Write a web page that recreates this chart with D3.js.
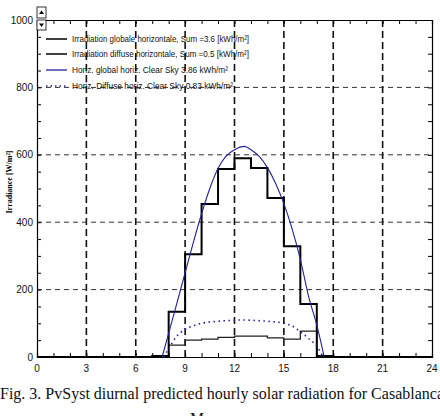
<!DOCTYPE html>
<html>
<head>
<meta charset="utf-8">
<script src="https://cdn.jsdelivr.net/npm/d3@7"></script>
<style>
  body { margin: 0; background: #fff; }
  svg { display: block; }
  .tick-lbl { font-family: "Liberation Sans Narrow", "Liberation Sans", Arial, sans-serif; font-size: 10px; fill: #111; }
  .leg { font-family: "Liberation Sans Narrow", "Liberation Sans", Arial, sans-serif; font-size: 9px; fill: #111; }
  .cap { font-family: "Liberation Serif", "Times New Roman", serif; font-size: 15.8px; fill: #111; }
</style>
</head>
<body>
<svg id="chart" width="440" height="416"></svg>
<script>
// ---- data ----
const hourStarts = [0, 1, 2, 3, 4, 5, 6, 7, 8, 9, 10, 11, 12, 13, 14, 15, 16, 17, 18, 19, 20, 21, 22, 23];
const globalHourly = [0, 0, 0, 0, 0, 0, 0, 3, 134, 305, 454, 558, 590, 561, 472, 329, 157, 3, 0, 0, 0, 0, 0, 0];
const diffuseHourly = [0, 0, 0, 0, 0, 0, 0, 3, 35, 50, 53, 58, 62, 62, 57, 53, 77, 3, 0, 0, 0, 0, 0, 0];

const clearHours = [7.6, 8, 8.5, 9, 9.5, 10, 10.5, 11, 11.5, 12, 12.6, 13, 13.5, 14, 14.5, 15, 15.5, 16, 16.5, 17, 17.45];
const clearGlobal = [0, 70, 160, 250, 340, 425, 500, 560, 597, 615, 625, 615, 595, 562, 515, 455, 380, 290, 180, 95, 0];

const clearDiffHours = [7.7, 8, 8.5, 9, 9.5, 10, 11, 12, 12.5, 13, 14, 15, 15.5, 16, 16.5, 17, 17.4];
const clearDiffuse = [0, 25, 62, 82, 93, 100, 106, 109, 110, 109, 106, 100, 92, 75, 55, 32, 0];

const xTicks = [0, 3, 6, 9, 12, 15, 18, 21, 24];
const yTicks = [0, 200, 400, 600, 800, 1000];

const legendItems = [
  "Irradiation globale horizontale,  Sum =3.6 [kWh/m\u00b2]",
  "Irradiation diffuse horizontale,  Sum =0.5 [kWh/m\u00b2]",
  "Horiz. global horiz.  Clear Sky  3.86 kWh/m\u00b2",
  "Horiz. Diffuse horiz.  Clear Sky  0.83 kWh/m\u00b2"
];

// ---- layout ----
const svg = d3.select("#chart");
svg.append("rect").attr("width", 440).attr("height", 416).attr("fill", "#fff");

const x = d3.scaleLinear().domain([0, 24]).range([37, 432]);
const y = d3.scaleLinear().domain([0, 1000]).range([357, 20]);
const blue = "#22229a";

// grid
svg.append("g").selectAll("line")
  .data(xTicks.slice(1, -1))
  .join("line")
  .attr("x1", d => x(d)).attr("x2", d => x(d))
  .attr("y1", y(1000)).attr("y2", y(0))
  .attr("stroke", "#111").attr("stroke-width", 1.6)
  .attr("stroke-dasharray", "7,4");

svg.append("g").selectAll("line")
  .data(yTicks.slice(1, -1))
  .join("line")
  .attr("x1", x(0)).attr("x2", x(24))
  .attr("y1", d => y(d)).attr("y2", d => y(d))
  .attr("stroke", "#333").attr("stroke-width", 1)
  .attr("stroke-dasharray", "5,4");

// axes (ticks inside on all four sides)
const axB = d3.axisBottom(x).tickValues(d3.range(0, 25, 1)).tickSize(-4).tickFormat("");
const axT = d3.axisTop(x).tickValues(d3.range(0, 25, 1)).tickSize(-4).tickFormat("");
const axL = d3.axisLeft(y).tickValues(d3.range(0, 1001, 50)).tickSize(-4).tickFormat("");
const axR = d3.axisRight(y).tickValues(d3.range(0, 1001, 50)).tickSize(-4).tickFormat("");

[[axB, `translate(0,${y(0)})`], [axT, `translate(0,${y(1000)})`],
 [axL, `translate(${x(0)},0)`], [axR, `translate(${x(24)},0)`]].forEach(([ax, tr]) => {
  const g = svg.append("g").attr("transform", tr).call(ax);
  g.select(".domain").attr("stroke", "#000").attr("stroke-width", 1.2);
  g.selectAll(".tick line").attr("stroke", "#000");
});

// tick labels
svg.append("g").selectAll("text")
  .data(xTicks).join("text")
  .attr("class", "tick-lbl")
  .attr("x", d => x(d)).attr("y", 372)
  .attr("text-anchor", "middle")
  .text(d => d);

svg.append("g").selectAll("text")
  .data(yTicks).join("text")
  .attr("class", "tick-lbl")
  .attr("x", 33).attr("y", d => y(d) + 3.5)
  .attr("text-anchor", "end")
  .text(d => d);

// y axis title
svg.append("text")
  .attr("transform", "translate(12,182) rotate(-90)")
  .attr("text-anchor", "middle")
  .style("font-family", "'Liberation Serif', serif")
  .style("font-size", "8px").style("font-weight", "bold")
  .text("Irradiance [W/m\u00b2]");

// ---- series ----
const step = d3.line().x(d => x(d[0])).y(d => y(d[1])).curve(d3.curveStepAfter);
const stepPts = vals => hourStarts.map((h, i) => [h, vals[i]]).concat([[24, vals[vals.length - 1]]]);

svg.append("path")
  .attr("d", step(stepPts(diffuseHourly)))
  .attr("fill", "none").attr("stroke", "#222").attr("stroke-width", 1.3);

svg.append("path")
  .attr("d", step(stepPts(globalHourly)))
  .attr("fill", "none").attr("stroke", "#000").attr("stroke-width", 2);

const smooth = d3.line().x(d => x(d[0])).y(d => y(d[1])).curve(d3.curveMonotoneX);

svg.append("path")
  .attr("d", smooth(clearHours.map((h, i) => [h, clearGlobal[i]])))
  .attr("fill", "none").attr("stroke", blue).attr("stroke-width", 1.1);

svg.append("path")
  .attr("d", smooth(clearDiffHours.map((h, i) => [h, clearDiffuse[i]])))
  .attr("fill", "none").attr("stroke", blue).attr("stroke-width", 1.6)
  .attr("stroke-dasharray", "1.5,3.5");

// ---- legend ----
const legY = [39, 54, 70, 86];
const legW = [177, 177, 156, 161];
const legStyle = [
  { c: "#000", w: 1.5, dash: null },
  { c: "#000", w: 1.5, dash: null },
  { c: blue, w: 1.3, dash: null },
  { c: blue, w: 1.6, dash: "1.5,3" }
];
legendItems.forEach((t, i) => {
  const s = legStyle[i];
  const ln = svg.append("line")
    .attr("x1", 46).attr("x2", 67).attr("y1", legY[i]).attr("y2", legY[i])
    .attr("stroke", s.c).attr("stroke-width", s.w);
  if (s.dash) ln.attr("stroke-dasharray", s.dash);
  svg.append("text").attr("class", "leg")
    .attr("x", 72).attr("y", legY[i] + 3)
    .attr("textLength", legW[i]).attr("lengthAdjust", "spacingAndGlyphs")
    .text(t);
});

// small scroll buttons at top-left
const btn = svg.append("g");
btn.append("rect").attr("x", 37).attr("y", 7).attr("width", 9).attr("height", 11)
  .attr("fill", "#fff").attr("stroke", "#000").attr("stroke-width", 0.8);
btn.append("rect").attr("x", 37).attr("y", 20).attr("width", 9).attr("height", 10)
  .attr("fill", "#fff").attr("stroke", "#000").attr("stroke-width", 0.8);
btn.append("path").attr("d", "M39,14 L41.5,10.5 L44,14 Z").attr("fill", "#000");
btn.append("path").attr("d", "M39,23.5 L41.5,27 L44,23.5 Z").attr("fill", "#000");

// ---- caption ----
svg.append("text").attr("class", "cap")
  .attr("x", 0).attr("y", 399)
  .attr("textLength", 444).attr("lengthAdjust", "spacingAndGlyphs")
  .text("Fig. 3. PvSyst diurnal predicted hourly solar radiation for Casablanca");
svg.append("text").attr("class", "cap")
  .attr("x", 190).attr("y", 424)
  .text("Morocco.");
</script>
</body>
</html>
